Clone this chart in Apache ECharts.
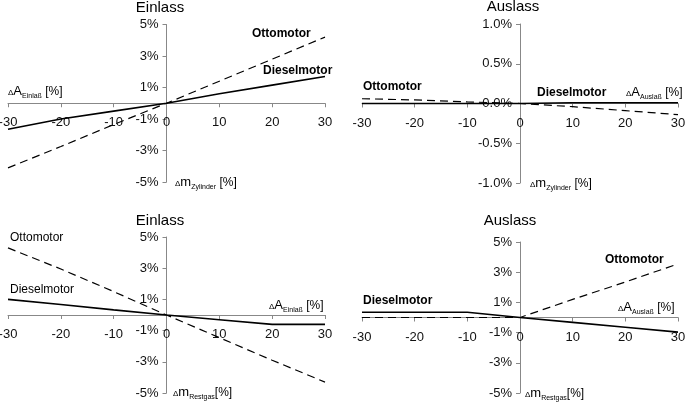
<!DOCTYPE html>
<html>
<head>
<meta charset="utf-8">
<script src="https://cdn.jsdelivr.net/npm/echarts@6/dist/echarts.min.js"></script>
<style>
html,body{margin:0;padding:0;background:#fff;}
#chart{width:685px;height:402px;}
</style>
</head>
<body>
<div id="chart"></div>
<script>
// ---- data ----
const xVals = [-30, -20, -10, 0, 10, 20, 30];
const yTicksPct = [-5, -3, -1, 1, 3, 5];

const p1Otto   = [-4.1, -2.75, -1.35, 0, 1.4, 2.8, 4.2];
const p1Diesel = [-1.65, -1.0, -0.5, 0, 0.6, 1.15, 1.7];
const p2Otto   = [0.06, 0.045, 0.02, 0, -0.04, -0.09, -0.14];
const p2Diesel = [0, 0, 0, 0, 0.01, 0.01, 0.01];
const p3Otto   = [4.3, 2.95, 1.5, 0, -1.45, -2.9, -4.3];
const p3Diesel = [1.0, 0.67, 0.33, 0, -0.3, -0.6, -0.6];
const p4Otto   = [0, 0, 0, 0, 1.2, 2.35, 3.55];
const p4Diesel = [0.35, 0.35, 0.35, 0, -0.32, -0.65, -0.97];

const titles = ['Einlass', 'Auslass', 'Einlass', 'Auslass'];

// ---- chart ----
const FONT = "'Liberation Sans', Arial, Helvetica, sans-serif";
const AXC = '#888';
const chart = echarts.init(document.getElementById('chart'), null, {renderer: 'canvas'});

const gridDims = [
  {left: 8, top: 24.5, width: 317, height: 157.5},
  {left: 362, top: 24, width: 316, height: 159},
  {left: 8, top: 237, width: 317, height: 156},
  {left: 362, top: 242, width: 316, height: 151}
];
const grids = gridDims.map(g => Object.assign({containLabel: false, outerBoundsMode: 'none'}, g));

// axes are symmetric about zero, so the crossing lies in the middle of each grid
function xAxis(i) {
  return {
    type: 'value', gridIndex: i, min: -30, max: 30, interval: 10,
    position: 'bottom', offset: -gridDims[i].height / 2,
    axisLine: {show: true, onZero: false, lineStyle: {color: AXC, width: 1}},
    axisTick: {show: true, length: 4, lineStyle: {color: AXC}},
    axisLabel: {fontSize: 13, fontFamily: FONT, color: '#111', margin: 13},
    splitLine: {show: false}
  };
}
function yAxisPct(i) {
  return {
    type: 'value', gridIndex: i, min: -5, max: 5, interval: 1,
    position: 'left', offset: -gridDims[i].width / 2,
    axisLine: {show: true, onZero: false, lineStyle: {color: AXC, width: 1}},
    axisTick: {show: true, length: 4, customValues: yTicksPct, lineStyle: {color: AXC}},
    axisLabel: {customValues: yTicksPct, formatter: v => v + '%', fontSize: 13, fontFamily: FONT, color: '#111', margin: 8},
    splitLine: {show: false}
  };
}
function yAxisSmall(i) {
  return {
    type: 'value', gridIndex: i, min: -1, max: 1, interval: 0.5,
    position: 'left', offset: -gridDims[i].width / 2,
    axisLine: {show: true, onZero: false, lineStyle: {color: AXC, width: 1}},
    axisTick: {show: true, length: 4, lineStyle: {color: AXC}},
    axisLabel: {formatter: v => v.toFixed(1) + '%', fontSize: 13, fontFamily: FONT, color: '#111', margin: 8},
    splitLine: {show: false}
  };
}

function pts(arr) { return xVals.map((x, k) => [x, arr[k]]); }
function line(i, arr, dashed) {
  return {
    type: 'line', xAxisIndex: i, yAxisIndex: i, data: pts(arr),
    symbol: 'none', silent: true, z: 3,
    lineStyle: dashed ? {color: '#000', width: 1.2, type: [8, 5]} : {color: '#000', width: 1.6, type: 'solid'}
  };
}

function txt(x, y, text, size, bold, align) {
  return {
    type: 'text', x: x, y: y, z: 10,
    style: {
      text: text, fill: '#000',
      font: (bold ? 'bold ' : '') + size + 'px ' + FONT,
      align: align || 'left', textAlign: align || 'left',
      verticalAlign: 'middle', textVerticalAlign: 'middle'
    }
  };
}
function axLabel(x, y, sym, sub) {
  return {
    type: 'text', x: x, y: y, z: 10,
    style: {
      text: '{d|Δ}{a|' + sym + '}{s|' + sub + '}{n|' + (sub === 'Restgas' ? '[%]' : ' [%]') + '}',
      fill: '#000', align: 'left', textAlign: 'left',
      verticalAlign: 'middle', textVerticalAlign: 'middle',
      rich: {
        d: {fontSize: 8, fontFamily: FONT, fill: '#000', verticalAlign: 'bottom', lineHeight: 12, padding: [0, 0, 1, 0]},
        a: {fontSize: 13, fontFamily: FONT, fill: '#000', verticalAlign: 'bottom', lineHeight: 14},
        s: {fontSize: 7, fontFamily: FONT, fill: '#000', verticalAlign: 'bottom', lineHeight: 8, padding: [0, 0, -2, 0]},
        n: {fontSize: 12, fontFamily: FONT, fill: '#000', verticalAlign: 'bottom', lineHeight: 14}
      }
    }
  };
}

const graphic = [
  txt(160, 8, titles[0], 15, false, 'center'),
  txt(513, 7, titles[1], 15, false, 'center'),
  txt(160, 221, titles[2], 15, false, 'center'),
  txt(510, 221, titles[3], 15, false, 'center'),
  // panel 1
  txt(252, 34, 'Ottomotor', 12, true),
  txt(263, 71, 'Dieselmotor', 12, true),
  axLabel(8, 91, 'A', 'Einlaß'),
  axLabel(175, 182, 'm', 'Zylinder'),
  // panel 2
  txt(363, 87, 'Ottomotor', 12, true),
  txt(537, 93, 'Dieselmotor', 12, true),
  axLabel(626, 92, 'A', 'Auslaß'),
  axLabel(530, 183, 'm', 'Zylinder'),
  // panel 3
  txt(10, 238, 'Ottomotor', 12, false),
  txt(10, 290, 'Dieselmotor', 12, false),
  axLabel(269, 305, 'A', 'Einlaß'),
  axLabel(173, 392, 'm', 'Restgas'),
  // panel 4
  txt(605, 260, 'Ottomotor', 12, true),
  txt(363, 301, 'Dieselmotor', 12, true),
  axLabel(618, 307, 'A', 'Auslaß'),
  axLabel(525, 393, 'm', 'Restgas')
];

chart.setOption({
  animation: false,
  backgroundColor: '#fff',
  textStyle: {fontFamily: FONT},
  grid: grids,
  xAxis: [xAxis(0), xAxis(1), xAxis(2), xAxis(3)],
  yAxis: [yAxisPct(0), yAxisSmall(1), yAxisPct(2), yAxisPct(3)],
  series: [
    line(0, p1Otto, true), line(0, p1Diesel, false),
    line(1, p2Otto, true), line(1, p2Diesel, false),
    line(2, p3Otto, true), line(2, p3Diesel, false),
    line(3, p4Otto, true), line(3, p4Diesel, false)
  ],
  graphic: graphic
});
</script>
</body>
</html>
